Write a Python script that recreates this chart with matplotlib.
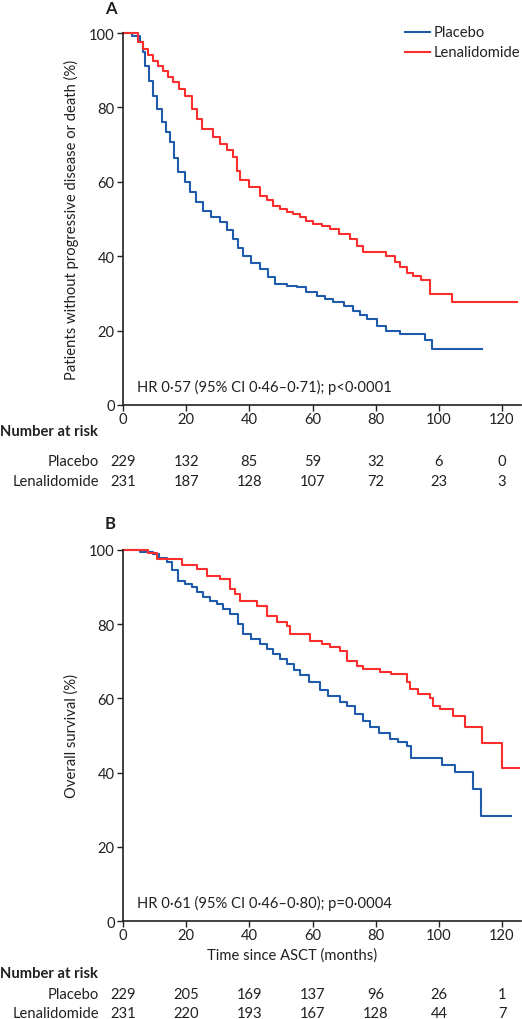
import matplotlib
matplotlib.use("Agg")
import matplotlib.pyplot as plt
from matplotlib import transforms

plt.rcParams['font.family'] = ['Lato', 'DejaVu Sans']

# Panel A: progression-free survival (months, % event free)
pfs_placebo_t = [0, 2.8, 5.4, 6.2, 7.0, 8.3, 9.6, 10.9, 12.2, 13.5, 14.9, 16.2, 17.5, 19.6, 21.2,
                 23.0, 25.4, 28.0, 30.7, 32.8, 34.9, 36.5, 38.1, 40.5, 43.4, 45.8, 48.1, 52.0, 55.0,
                 58.0, 61.3, 64.0, 66.6, 70.0, 72.9, 75.0, 77.1, 80.3, 83.4, 87.7, 95.6, 97.7, 113.7]
pfs_placebo_s = [100, 99.3, 97.5, 95.0, 91.2, 87.0, 83.1, 79.5, 76.0, 73.3, 70.6, 66.5, 62.6, 60.0, 57.2,
                 54.5, 52.2, 50.5, 49.1, 47.0, 44.6, 42.3, 40.1, 38.3, 36.6, 34.5, 32.5, 32.0, 31.6,
                 30.5, 29.4, 28.5, 27.6, 26.5, 25.4, 24.3, 23.1, 21.3, 20.0, 19.1, 17.5, 15.1, 15.1]
pfs_lena_t = [0, 4.8, 6.4, 8.0, 9.6, 11.2, 12.8, 14.4, 15.9, 17.8, 19.6, 21.7, 23.3, 24.9, 28.6,
              30.7, 32.8, 34.9, 36.0, 37.0, 40.0, 43.4, 45.5, 47.6, 49.7, 51.8, 53.9, 56.0, 58.0,
              60.2, 63.0, 65.5, 68.5, 71.8, 74.0, 76.0, 83.4, 86.0, 87.7, 90.0, 91.9, 94.2, 97.2,
              104.3, 124.8]
pfs_lena_s = [100, 97.5, 95.7, 94.0, 92.6, 91.2, 89.9, 88.2, 86.7, 85.0, 83.1, 79.6, 77.0, 74.2, 72.0,
              70.2, 68.5, 66.6, 63.0, 60.5, 58.5, 56.3, 55.0, 53.6, 52.7, 52.0, 51.3, 50.5, 49.5,
              48.7, 48.0, 47.3, 46.0, 44.6, 42.8, 41.0, 40.1, 38.5, 37.0, 35.5, 34.8, 33.7, 29.8,
              27.6, 27.6]

# Panel B: overall survival
os_placebo_t = [0, 5.4, 9.6, 11.5, 13.8, 15.5, 17.5, 19.5, 21.7, 23.5, 25.4, 27.5, 29.7, 31.8, 33.9,
                36.5, 38.1, 40.5, 43.4, 45.5, 47.6, 49.7, 51.8, 54.0, 56.0, 59.0, 62.3, 65.0, 68.7,
                71.0, 73.4, 76.0, 78.2, 81.0, 84.5, 87.0, 89.8, 91.3, 100.9, 105.1, 110.9, 113.2, 122.7]
os_placebo_s = [100, 99.5, 98.8, 97.8, 96.6, 94.5, 91.7, 90.8, 89.9, 88.5, 87.2, 86.3, 85.4, 84.0, 82.7,
                80.0, 77.3, 76.0, 74.6, 73.3, 71.9, 70.5, 69.2, 67.5, 66.2, 64.3, 62.3, 60.5, 59.0,
                58.0, 55.8, 54.0, 52.2, 50.8, 49.1, 48.2, 47.3, 44.0, 42.1, 40.1, 35.5, 28.4, 28.4]
os_lena_t = [0, 8.0, 10.7, 18.6, 23.3, 26.5, 30.7, 33.9, 35.5, 37.0, 42.3, 45.5, 48.6, 51.8, 52.8,
             59.2, 63.0, 65.5, 68.7, 70.8, 74.0, 76.0, 81.3, 85.0, 89.8, 90.8, 93.5, 97.2, 98.2,
             100.3, 104.5, 108.2, 113.5, 120.0, 125.5]
os_lena_s = [100, 99.2, 97.5, 96.0, 94.8, 93.0, 92.1, 89.4, 88.0, 86.3, 84.9, 82.2, 80.5, 79.5, 77.3,
             75.5, 74.5, 73.7, 72.8, 70.1, 68.8, 67.9, 67.0, 66.6, 64.3, 62.5, 61.3, 60.0, 58.0,
             57.1, 55.2, 52.4, 48.0, 41.2, 41.2]

risk_times = [0, 20, 40, 60, 80, 100, 120]
pfs_risk_placebo = [229, 132, 85, 59, 32, 6, 0]
pfs_risk_lena = [231, 187, 128, 107, 72, 23, 3]
os_risk_placebo = [229, 205, 169, 137, 96, 26, 1]
os_risk_lena = [231, 220, 193, 167, 128, 44, 7]

BLUE = '#1f5bab'
RED = '#fb2d2d'
TXT = '#231f20'
FS = 10.6

W, H = 522, 1020
fig = plt.figure(figsize=(W / 100, H / 100), dpi=100)


def fx(px):
    return px / W


def fy(py):
    return 1 - py / H


def make_axes(top, bottom):
    ax = fig.add_axes([fx(123), fy(bottom), fx(521) - fx(123), fy(top) - fy(bottom)])
    ax.set_xlim(0, 126)
    ax.set_ylim(0, 100)
    ax.spines['top'].set_visible(False)
    ax.spines['right'].set_visible(False)
    for s in ('left', 'bottom'):
        ax.spines[s].set_linewidth(1.2)
        ax.spines[s].set_color(TXT)
    ax.set_xticks(risk_times)
    ax.set_yticks([0, 20, 40, 60, 80, 100])
    ax.tick_params(length=4.5, width=1.0, color=TXT, labelcolor=TXT, labelsize=FS, pad=1.5)
    ax.tick_params(axis='x', pad=0.5)
    return ax


def risk_table(ax, y_head, y1, y2, placebo, lena):
    tr = transforms.blended_transform_factory(ax.transData, fig.transFigure)
    fig.text(0, fy(y_head), 'Number at risk', fontsize=FS, fontweight='bold', color=TXT, va='center')
    fig.text(fx(99), fy(y1), 'Placebo', fontsize=FS, color=TXT, ha='right', va='center')
    fig.text(fx(99), fy(y2), 'Lenalidomide', fontsize=FS, color=TXT, ha='right', va='center')
    for t, a, b in zip(risk_times, placebo, lena):
        ax.text(t, fy(y1), str(a), transform=tr, fontsize=FS, color=TXT, ha='center', va='center')
        ax.text(t, fy(y2), str(b), transform=tr, fontsize=FS, color=TXT, ha='center', va='center')


# Panel A
ax_a = make_axes(34, 406)
ax_a.step(pfs_placebo_t, pfs_placebo_s, where='post', color=BLUE, lw=1.5, clip_on=False)
ax_a.step(pfs_lena_t, pfs_lena_s, where='post', color=RED, lw=1.5, clip_on=False)
ax_a.set_ylabel('Patients without progressive disease or death (%)', fontsize=FS, color=TXT, labelpad=7)
ax_a.text(fx(137), fy(387), 'HR 0·57 (95% CI 0·46–0·71); p<0·0001', transform=fig.transFigure,
          fontsize=FS, color=TXT, va='center')
fig.text(fx(105), fy(9), 'A', fontsize=12, fontweight='bold', color=TXT, va='center')
fig.add_artist(plt.Line2D([fx(405), fx(430)], [fy(33), fy(33)], color=BLUE, lw=1.5))
fig.add_artist(plt.Line2D([fx(405), fx(430)], [fy(53), fy(53)], color=RED, lw=1.5))
fig.text(fx(434), fy(33), 'Placebo', fontsize=FS, color=TXT, va='center')
fig.text(fx(434), fy(53), 'Lenalidomide', fontsize=FS, color=TXT, va='center')
risk_table(ax_a, 432, 462, 482, pfs_risk_placebo, pfs_risk_lena)

# Panel B
ax_b = make_axes(550.7, 922.3)
ax_b.step(os_placebo_t, os_placebo_s, where='post', color=BLUE, lw=1.5, clip_on=False)
ax_b.step(os_lena_t, os_lena_s, where='post', color=RED, lw=1.5, clip_on=False)
ax_b.set_ylabel('Overall survival (%)', fontsize=FS, color=TXT, labelpad=7)
ax_b.text(fx(137), fy(903), 'HR 0·61 (95% CI 0·46–0·80); p=0·0004', transform=fig.transFigure,
          fontsize=FS, color=TXT, va='center')
fig.text(fx(105), fy(524), 'B', fontsize=12, fontweight='bold', color=TXT, va='center')
fig.text(fx(292), fy(956), 'Time since ASCT (months)', fontsize=FS, color=TXT, ha='center', va='center')
risk_table(ax_b, 974, 995, 1014, os_risk_placebo, os_risk_lena)

fig.savefig('out.png', dpi=100)
